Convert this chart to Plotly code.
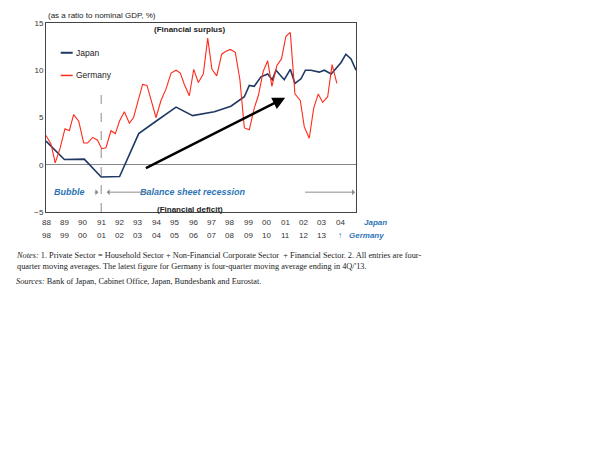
import plotly.graph_objects as go

# Japan: year (fractional), value
japan_t = [1988.0, 1989.0, 1990.08, 1991.0, 1992.0, 1993.04, 1993.9, 1995.07, 1995.97, 1997.15,
           1998.05, 1998.78, 1999.05, 1999.32, 1999.68, 2000.05, 2000.3, 2000.5, 2000.95, 2001.28,
           2001.53, 2001.86, 2002.1, 2002.4, 2002.85, 2003.13, 2003.5, 2003.76, 2004.03, 2004.3,
           2004.58, 2004.85]
japan_v = [2.5, 0.55, 0.6, -1.3, -1.25, 3.3, 4.5, 6.1, 5.2, 5.6,
           6.2, 7.2, 8.4, 8.3, 9.3, 9.6, 9.0, 10.0, 9.0, 10.1,
           8.6, 9.1, 10.0, 10.0, 9.8, 10.0, 9.6, 10.2, 10.8, 11.7,
           11.2, 10.0]
# Germany: real year (fractional), value
germany_t = [1998.0, 1998.27, 1998.5, 1998.76, 1999.03, 1999.27, 1999.5, 1999.78, 2000.05, 2000.26,
             2000.54, 2000.8, 2001.03, 2001.26, 2001.53, 2001.77, 2001.99, 2002.26, 2002.53, 2002.76,
             2003.04, 2003.25, 2003.49, 2003.76, 2003.98, 2004.25, 2004.52, 2004.8, 2005.07, 2005.3,
             2005.52, 2005.79, 2006.03, 2006.28, 2006.55, 2006.79, 2007.02, 2007.28, 2007.55, 2007.78,
             2008.02, 2008.29, 2008.54, 2008.78, 2009.05, 2009.32, 2009.54, 2009.81, 2010.05, 2010.28,
             2010.55, 2010.8, 2011.04, 2011.28, 2011.53, 2011.82, 2012.04, 2012.31, 2012.55, 2012.8,
             2013.04, 2013.31, 2013.55, 2013.81]
germany_v = [3.1, 2.2, 0.2, 1.7, 3.8, 3.6, 5.3, 4.6, 2.3, 2.3,
             2.9, 2.6, 1.7, 1.8, 3.6, 3.3, 4.6, 5.6, 4.4, 5.0,
             7.0, 8.5, 8.4, 6.5, 5.0, 6.8, 8.0, 9.7, 10.0, 9.7,
             8.5, 7.3, 10.1, 8.7, 9.6, 13.4, 10.1, 9.4, 11.7, 12.0,
             12.2, 11.9, 9.0, 3.9, 3.7, 6.0, 7.3, 9.9, 11.0, 8.3,
             10.5, 11.2, 13.6, 14.0, 7.5, 6.8, 4.0, 2.8, 6.0, 7.5,
             6.6, 7.2, 10.6, 8.6]
japan_ticks = ["88", "89", "90", "91", "92", "93", "94", "95", "96", "97", "98", "99", "00", "01", "02", "03", "04"]
germany_ticks = ["98", "99", "00", "01", "02", "03", "04", "05", "06", "07", "08", "09", "10", "11", "12", "13", "↑"]

NAVY = "#1f3864"
RED = "#ff2a1a"
BLUE = "#2e75b6"
GRAY = "#8c8c8c"

fig = go.Figure()
fig.add_trace(go.Scatter(x=japan_t, y=japan_v, mode="lines", line=dict(color=NAVY, width=1.6)))
fig.add_trace(go.Scatter(x=[t - 10 for t in germany_t], y=germany_v, mode="lines",
                         line=dict(color=RED, width=1.1)))

x0, x1 = 1988, 2004.85
fig.update_xaxes(range=[x0, x1], showticklabels=False, showgrid=False, zeroline=False,
                 showline=True, mirror=True, linecolor="#444", linewidth=1, automargin=False)
fig.update_yaxes(range=[-5, 15], tickvals=[-5, 0, 5, 10, 15], showgrid=False, zeroline=True,
                 zerolinecolor="#888", zerolinewidth=1, showline=True, mirror=True,
                 linecolor="#444", linewidth=1, tickfont=dict(size=8, color="#333"), ticks="",
                 automargin=False)

ann = []
for i, (j, g) in enumerate(zip(japan_ticks, germany_ticks)):
    ann.append(dict(x=1988 + i, y=-5, yref="y", yshift=-10, text=j, showarrow=False,
                    font=dict(size=8, color="#333")))
    ann.append(dict(x=1988 + i, y=-5, yref="y", yshift=-23, text=g, showarrow=False,
                    font=dict(size=8, color=BLUE if g == "↑" else "#333")))
ann += [
    dict(x=1.0, xref="paper", xshift=6, y=-5, yshift=-10, text="<i><b>Japan</b></i>", showarrow=False,
         xanchor="left", font=dict(size=8, color=BLUE)),
    dict(x=2004.35, y=-5, yshift=-23, text="<i><b>Germany</b></i>", showarrow=False, xanchor="left",
         font=dict(size=8, color=BLUE)),
    dict(x=0, xref="paper", y=15, yshift=8, xanchor="left", text="(as a ratio to nominal GDP, %)",
         showarrow=False, font=dict(size=8, color="#222")),
    dict(x=1995.8, y=14.3, text="<b>(Financial surplus)</b>", showarrow=False, font=dict(size=8)),
    dict(x=1995.8, y=-4.7, text="<b>(Financial deficit)</b>", showarrow=False, font=dict(size=8)),
    dict(x=1988.3, y=-2.9, text="<i><b>Bubble</b></i>", showarrow=False, xanchor="left",
         font=dict(size=9, color=BLUE)),
    dict(x=1996.0, y=-2.9, text="<i><b>Balance sheet recession</b></i>", showarrow=False,
         font=dict(size=9, color=BLUE)),
    dict(x=1990.85, y=-2.9, ax=1990.55, ay=-2.9, axref="x", ayref="y", text="", showarrow=True,
         arrowhead=1, arrowwidth=1, arrowcolor=GRAY),
    dict(x=1991.3, y=-2.9, ax=1993.7, ay=-2.9, axref="x", ayref="y", text="", showarrow=True,
         arrowhead=1, arrowwidth=1, arrowcolor=GRAY),
    dict(x=2004.8, y=-2.9, ax=2002.0, ay=-2.9, axref="x", ayref="y", text="", showarrow=True,
         arrowhead=1, arrowwidth=1, arrowcolor=GRAY),
    dict(x=2001.0, y=7.1, ax=1993.35, ay=-0.45, axref="x", ayref="y", text="", showarrow=True,
         arrowhead=2, arrowsize=1, arrowwidth=2.5, arrowcolor="black"),
    dict(x=1989.5, y=11.85, text="Japan", showarrow=False, xanchor="left", font=dict(size=8.5, color="#222")),
    dict(x=1989.5, y=9.45, text="Germany", showarrow=False, xanchor="left", font=dict(size=8.5, color="#222")),
]
notes = ("<i>Notes:</i> 1. Private Sector = Household Sector + Non-Financial Corporate Sector  + Financial Sector. 2. All entries are four-<br>"
         "quarter moving averages. The latest figure for Germany is four-quarter moving average ending in 4Q/'13.")
ann.append(dict(x=0.0, xref="paper", y=-5, yshift=-37, yanchor="top", xanchor="left", text=notes,
                showarrow=False, align="left", font=dict(size=8.3, family="Liberation Serif", color="#222")))
ann.append(dict(x=0.0, xref="paper", y=-5, yshift=-63, yanchor="top", xanchor="left",
                text="<i>Sources:</i> Bank of Japan, Cabinet Office, Japan, Bundesbank and Eurostat.",
                showarrow=False, align="left", font=dict(size=8.3, family="Liberation Serif", color="#222")))
for a in ann[-2:]:
    a["xshift"] = -32

shapes = [
    dict(type="line", x0=1991, x1=1991, y0=-5, y1=7.6, line=dict(color=GRAY, width=1, dash="dash")),
    dict(type="line", x0=1988.8, x1=1989.45, y0=11.85, y1=11.85, line=dict(color=NAVY, width=2)),
    dict(type="line", x0=1988.8, x1=1989.45, y0=9.45, y1=9.45, line=dict(color=RED, width=1.5)),
]
fig.update_layout(width=614, height=460, margin=dict(l=38, r=266, t=15, b=256),
                  plot_bgcolor="white", paper_bgcolor="white", showlegend=False,
                  font=dict(family="Liberation Sans", color="#222"),
                  annotations=ann, shapes=shapes)
fig.write_html("out.html")
